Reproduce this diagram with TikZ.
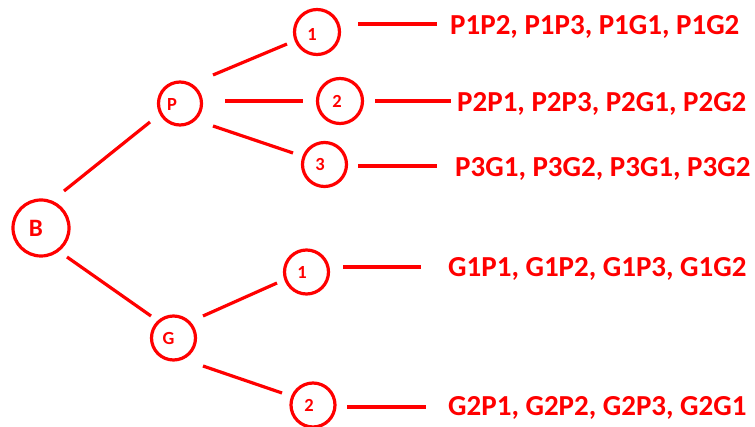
\documentclass[tikz,border=0pt]{standalone}
\usepackage{fontspec}
\setmainfont{Carlito}
\usetikzlibrary{calc}
\begin{document}
\begin{tikzpicture}[x=1pt,y=-1pt,
  ring/.style={circle,draw=red,line width=3.2pt,inner sep=0pt,minimum size=#1},
  conn/.style={draw=red,line width=3.2pt},
  res/.style={anchor=base west,inner sep=0pt,text=red,font=\fontsize{29}{34}\selectfont\bfseries},
  lab/.style={text=red,inner sep=0pt,font=\fontsize{18.5}{22}\selectfont\bfseries}]
\useasboundingbox (0,0) rectangle (755,427);
% circles
\node[ring=56,label={[lab,font=\fontsize{25}{30}\selectfont\bfseries,xshift=-5pt]center:B}] (B) at (41,228) {};
\node[ring=43,label={[lab,xshift=-8pt,yshift=-1pt]center:P}] (P) at (180,103.5) {};
\node[ring=44,label={[lab,xshift=-5pt]center:G}] (G) at (173.5,338) {};
\node[ring=45,label={[lab,xshift=-5pt,yshift=-2pt]center:1}] (P1) at (317,32) {};
\node[ring=45,label={[lab,xshift=-3pt]center:2}] (P2) at (340,101) {};
\node[ring=44,label={[lab,xshift=-4.5pt]center:3}] (P3) at (324.5,164.5) {};
\node[ring=44,label={[lab,xshift=-4.5pt]center:1}] (G1) at (306.5,272) {};
\node[ring=44,label={[lab,xshift=-4pt]center:2}] (G2) at (313,405) {};
% results
\node[res] (L1) at (450,35) {P1P2, P1P3, P1G1, P1G2};
\node[res] (L2) at (457,112) {P2P1, P2P3, P2G1, P2G2};
\node[res] (L3) at (455,177) {P3G1, P3G2, P3G1, P3G2};
\node[res] (M1) at (448,277) {G1P1, G1P2, G1P3, G1G2};
\node[res] (M2) at (448,416) {G2P1, G2P2, G2P3, G2G1};
% tree connectors
\draw[conn] ($(B)+(23,-37)$) -- ($(P)+(-30,18.5)$);
\draw[conn] ($(B)+(26,29)$) -- ($(G)+(-22.5,-22)$);
\draw[conn] ($(P)+(33,-28.5)$) -- ($(P1)+(-30,12)$);
\draw[conn] ($(P)+(45,-2.5)$) -- ($(P2)+(-37,0)$);
\draw[conn] ($(P)+(33,22.5)$) -- ($(P3)+(-31.5,-11.5)$);
\draw[conn] ($(G)+(29.5,-22)$) -- ($(G1)+(-29.5,11)$);
\draw[conn] ($(G)+(29.5,28)$) -- ($(G2)+(-31,-12)$);
% leaf connectors
\draw[conn] ($(P1)+(41,-8)$) -- ($(L1.base west)+(-13,-11)$);
\draw[conn] ($(P2)+(35,0)$) -- ($(L2.base west)+(-6,-11)$);
\draw[conn] ($(P3)+(33.5,1.5)$) -- ($(L3.base west)+(-18,-11)$);
\draw[conn] ($(G1)+(36.5,-5)$) -- ($(M1.base west)+(-27,-10)$);
\draw[conn] ($(G2)+(34,2)$) -- ($(M2.base west)+(-22,-9)$);
\end{tikzpicture}
\end{document}
